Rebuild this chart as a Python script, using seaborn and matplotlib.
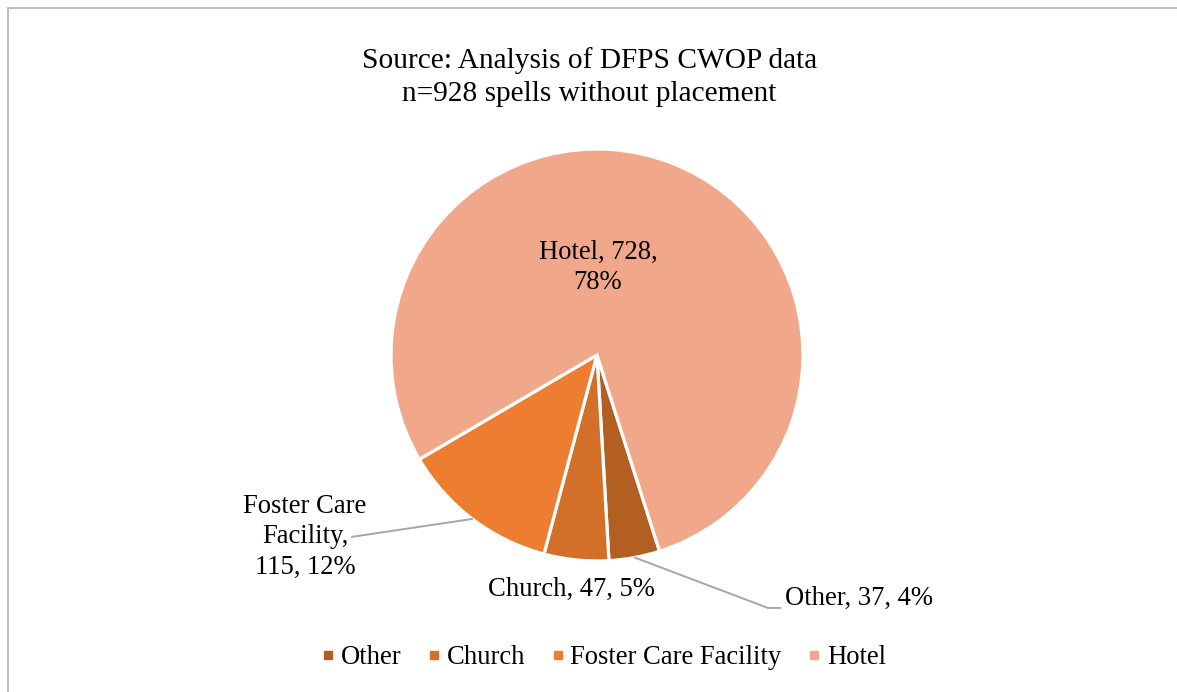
import numpy as np
import matplotlib.pyplot as plt
from matplotlib.lines import Line2D
import seaborn as sns

# Data
categories = ["Other", "Church", "Foster Care Facility", "Hotel"]
counts = [37, 47, 115, 728]
percents = [4, 5, 12, 78]
slice_colors = ["#B45F22", "#D46F2A", "#ED7D31", "#F1A88A"]

sns.set_style("white")
plt.rcParams["font.family"] = ["Liberation Serif", "DejaVu Serif"]
plt.rcParams["text.color"] = "black"

fig = plt.figure(figsize=(11.77, 6.92), dpi=100)

# square axes so the pie keeps centre (597, 355) px and radius ~206 px
ax = fig.add_axes([0.3322, 0.1893, 0.35, 0.5954])
wedges, _ = ax.pie(counts, colors=sns.color_palette(slice_colors),
                   startangle=-72.3, counterclock=False, radius=1,
                   wedgeprops=dict(edgecolor="white", linewidth=2.3))
ax.set_xlim(-1, 1)
ax.set_ylim(-1, 1)
ax.set_aspect("equal")
ax.axis("off")

labels = [f"{c}, {n}, {p}%" for c, n, p in zip(categories, counts, percents)]
fs = 19.2
ls = 1.3

def mid_point(w, r=1.0):
    a = np.deg2rad((w.theta1 + w.theta2) / 2)
    return r * np.cos(a), r * np.sin(a)

# Hotel label inside the slice
ax.text(0.005, 0.425, "Hotel, 728,\n78%", ha="center", va="center",
        fontsize=fs, linespacing=ls, clip_on=False)

# Church label below, no leader
ax.text(-0.126, -1.14, labels[1], ha="center", va="center",
        fontsize=fs, clip_on=False)

lead = dict(color="#A6A6A6", lw=1.4)

# Foster Care Facility label with leader
fx, fy = mid_point(wedges[2])
ax.plot([fx, -1.19], [fy, -0.883], clip_on=False, **lead)
ax.text(-1.417, -0.883, "Foster Care\nFacility,\n115, 12%", ha="center",
        va="center", fontsize=fs, linespacing=ls, clip_on=False)

# Other label with leader
ox, oy = mid_point(wedges[0])
ax.plot([ox, 0.83, 0.89], [oy, -1.228, -1.228], clip_on=False, **lead)
ax.text(0.913, -1.18, labels[0], ha="left", va="center",
        fontsize=fs, clip_on=False)

# title
fig.text(0.501, 1 - 77 / 692, "Source: Analysis of DFPS CWOP data\nn=928 spells without placement",
         ha="center", va="center", fontsize=21.2, linespacing=1.32)

# legend
handles = [Line2D([], [], marker="s", linestyle="none", markersize=6.4,
                  markerfacecolor=c, markeredgecolor=c) for c in slice_colors]
fig.legend(handles, categories, loc="center", bbox_to_anchor=(0.513, 1 - 658 / 692),
           ncol=4, frameon=False, fontsize=fs, handlelength=0.45,
           handletextpad=0.25, columnspacing=1.0)

# chart area border (top and left edges visible)
border = "#BFBFBF"
fig.add_artist(Line2D([8 / 1177, 1], [1 - 7.5 / 692, 1 - 7.5 / 692], color=border, lw=1.5))
fig.add_artist(Line2D([8 / 1177, 8 / 1177], [0, 1 - 7.5 / 692], color=border, lw=1.5))

fig.savefig("out.png", dpi=100, facecolor="white")
